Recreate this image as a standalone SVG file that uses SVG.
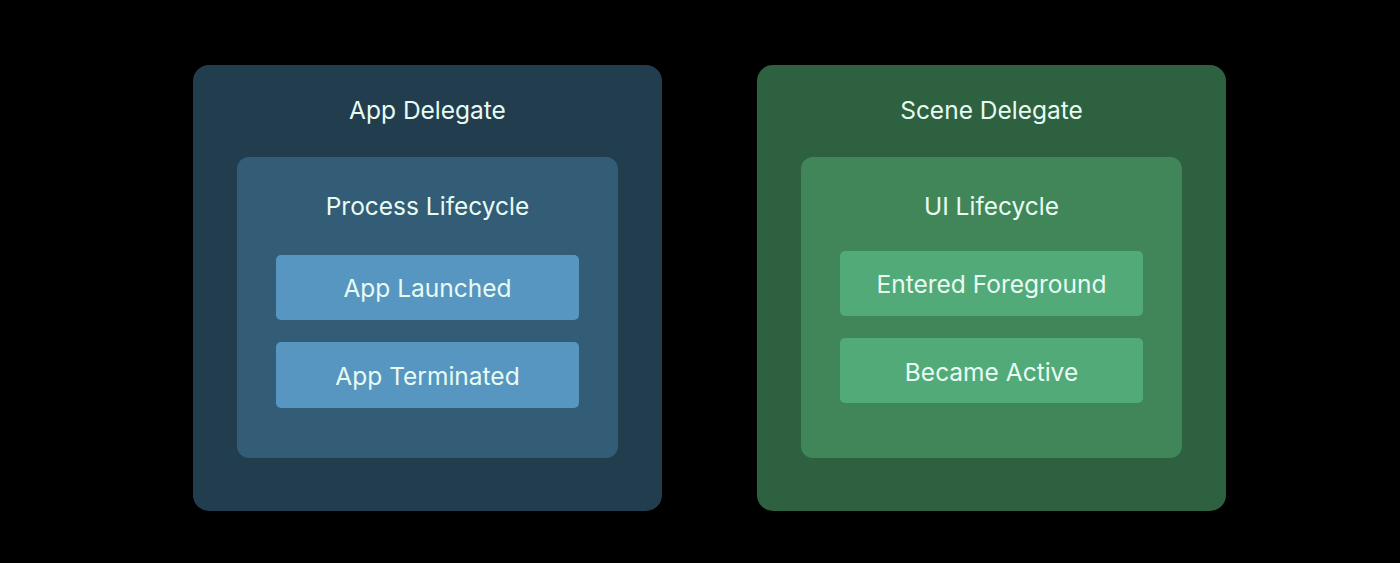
<svg xmlns="http://www.w3.org/2000/svg" width="1400" height="563" viewBox="0 0 1400 563">
<style>
text{font-family:Inter,"Liberation Sans",sans-serif;fill:#e8fbf3;text-anchor:middle;font-size:24.5px}
.lo{fill:#223e4e}.li{fill:#335c76}.lb{fill:#5696c1}
.ro{fill:#2e6140}.ri{fill:#418659}.rb{fill:#52aa79}
</style>
<rect width="1400" height="563" fill="#000"/>
<g id="app-delegate">
<rect class="lo" x="193" y="65" width="469" height="446" rx="16"/>
<text x="427.5" y="119">App Delegate</text>
</g>
<g id="process-lifecycle">
<rect class="li" x="237" y="157" width="381" height="301" rx="12"/>
<text x="427.5" y="215">Process Lifecycle</text>
</g>
<g id="app-launched">
<rect class="lb" x="276" y="255" width="303" height="65" rx="5"/>
<text x="427.5" y="297">App Launched</text>
</g>
<g id="app-terminated">
<rect class="lb" x="276" y="342" width="303" height="66" rx="5"/>
<text x="427.5" y="385">App Terminated</text>
</g>
<g id="scene-delegate">
<rect class="ro" x="757" y="65" width="469" height="446" rx="16"/>
<text x="991.5" y="119">Scene Delegate</text>
</g>
<g id="ui-lifecycle">
<rect class="ri" x="801" y="157" width="381" height="301" rx="12"/>
<text x="991.5" y="215">UI Lifecycle</text>
</g>
<g id="entered-foreground">
<rect class="rb" x="840" y="251" width="303" height="65" rx="5"/>
<text x="991.5" y="293">Entered Foreground</text>
</g>
<g id="became-active">
<rect class="rb" x="840" y="338" width="303" height="65" rx="5"/>
<text x="991.5" y="381">Became Active</text>
</g>
<g id="connectors"/>
</svg>
